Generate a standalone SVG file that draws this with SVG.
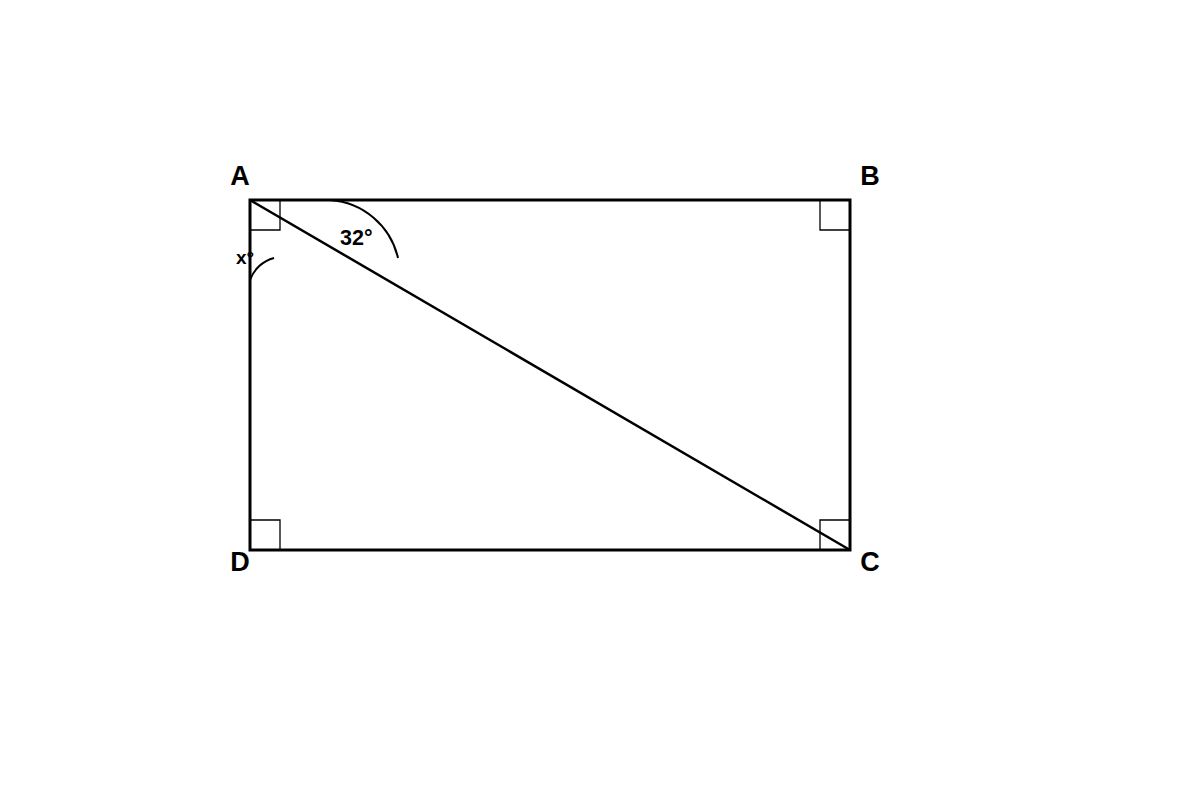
<svg xmlns="http://www.w3.org/2000/svg" width="1200" height="800" viewBox="0 0 1200 800">
<style>
.lbl{font-family:"Liberation Sans",Arial,sans-serif;font-weight:bold;fill:#000}
.pt{font-size:27px;text-anchor:middle}
.thin{fill:none;stroke:#000;stroke-width:1.3}
.arc{fill:none;stroke:#000;stroke-width:2}
</style>
<rect width="1200" height="800" fill="#fff"/>
<g id="rectangle">
<rect x="250" y="200" width="600" height="350" fill="none" stroke="#000" stroke-width="3"/>
</g>
<g id="right-angles">
<path class="thin" d="M250 230 H280 V200"/>
<path class="thin" d="M820 200 V230 H850"/>
<path class="thin" d="M250 520 H280 V550"/>
<path class="thin" d="M820 550 V520 H850"/>
</g>
<g id="connectors">
<line x1="250" y1="200" x2="850" y2="550" stroke="#000" stroke-width="2.5"/>
</g>
<g id="angles">
<path class="arc" d="M330 200 A75 75 0 0 1 398 258"/>
<path class="arc" d="M250 280 A35 35 0 0 1 274 258"/>
<text class="lbl" x="340" y="245" font-size="21.5">32°</text>
<text class="lbl" x="236" y="264" font-size="19">x°</text>
</g>
<g id="labels">
<text class="lbl pt" x="240" y="185">A</text>
<text class="lbl pt" x="870" y="185">B</text>
<text class="lbl pt" x="240" y="571">D</text>
<text class="lbl pt" x="870" y="571">C</text>
</g>
</svg>
